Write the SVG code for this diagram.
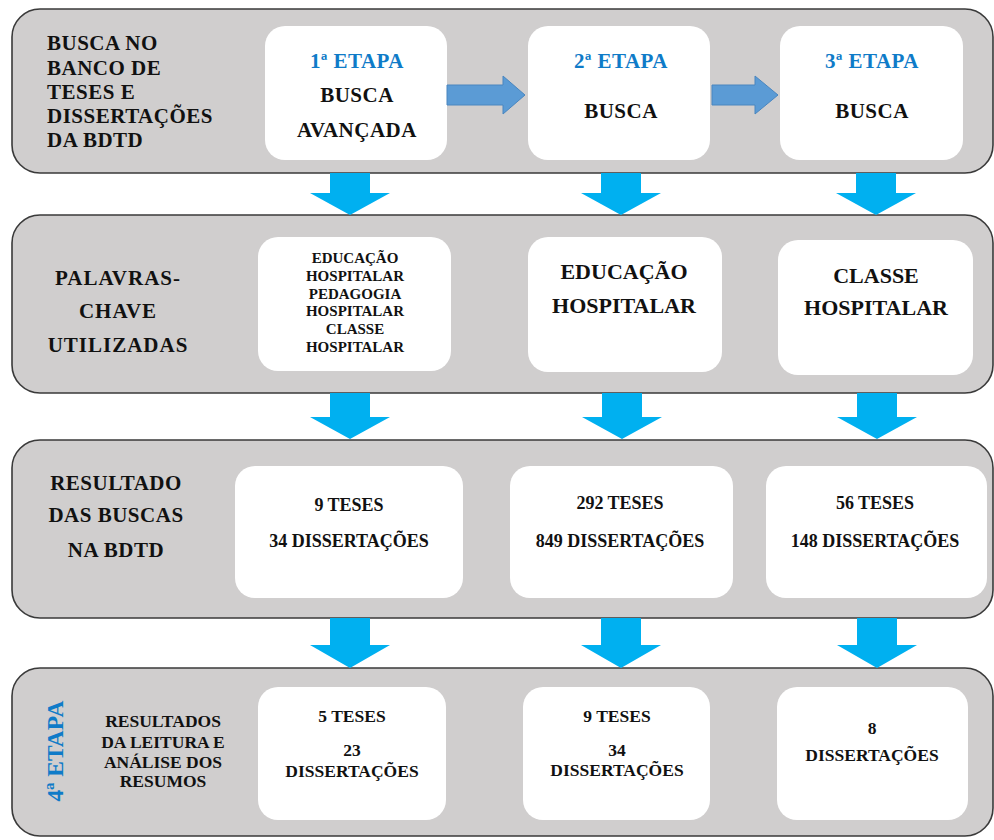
<svg xmlns="http://www.w3.org/2000/svg" width="994" height="840" viewBox="0 0 994 840">
<style>
.panel{fill:#d0cece;stroke:#3a3a3a;stroke-width:1.6}
.box{fill:#ffffff}
.t text{font-family:"Liberation Serif","Times New Roman",Times,"Nimbus Roman","Noto Serif","DejaVu Serif",serif;font-weight:700;fill:#111}
.t .c{text-anchor:middle}
.t .blue{fill:#0f7bc8}
.h21{font-size:21px;letter-spacing:0.5px}
.h22{font-size:22px}
.h23{font-size:23.5px}
.h18{font-size:18px}
.h175{font-size:17.5px}
.h15{font-size:15px}
.harrow{fill:#5b9bd5;stroke:#4a86bf;stroke-width:1}
.varrow{fill:#00b0f0}
</style>
<rect width="994" height="840" fill="#ffffff"/>
<g class="t">

<!-- Row 1 -->
<g id="panel1">
<rect class="panel" x="12" y="9" width="981" height="164" rx="28"/>
<text class="h21" x="47" y="50">BUSCA NO</text>
<text class="h21" x="47" y="75">BANCO DE</text>
<text class="h21" x="47" y="99">TESES E</text>
<text class="h21" x="47" y="123">DISSERTAÇÕES</text>
<text class="h21" x="47" y="147">DA BDTD</text>
</g>
<g id="etapa1">
<rect class="box" x="265" y="26" width="182" height="134" rx="20"/>
<text class="h21 c blue" x="357" y="68">1ª ETAPA</text>
<text class="h21 c" x="357" y="102">BUSCA</text>
<text class="h21 c" x="357" y="137">AVANÇADA</text>
</g>
<g id="etapa2">
<rect class="box" x="528" y="26" width="182" height="134" rx="20"/>
<text class="h21 c blue" x="621" y="68">2ª ETAPA</text>
<text class="h21 c" x="621" y="118">BUSCA</text>
</g>
<g id="etapa3">
<rect class="box" x="780" y="26" width="183" height="134" rx="20"/>
<text class="h21 c blue" x="872" y="68">3ª ETAPA</text>
<text class="h21 c" x="872" y="118">BUSCA</text>
</g>

<!-- Row 2 -->
<g id="panel2">
<rect class="panel" x="12" y="215" width="981" height="178" rx="28"/>
<text class="h21 c" x="118" y="285" style="letter-spacing:1px">PALAVRAS-</text>
<text class="h21 c" x="118" y="318" style="letter-spacing:1px">CHAVE</text>
<text class="h21 c" x="118" y="352" style="letter-spacing:1px">UTILIZADAS</text>
</g>
<g id="palavras1">
<rect class="box" x="258" y="237" width="193" height="134" rx="20"/>
<text class="h15 c" x="355" y="263">EDUCAÇÃO</text>
<text class="h15 c" x="355" y="281">HOSPITALAR</text>
<text class="h15 c" x="355" y="299">PEDAGOGIA</text>
<text class="h15 c" x="355" y="316">HOSPITALAR</text>
<text class="h15 c" x="355" y="334">CLASSE</text>
<text class="h15 c" x="355" y="352">HOSPITALAR</text>
</g>
<g id="palavras2">
<rect class="box" x="528" y="237" width="194" height="135" rx="20"/>
<text class="h22 c" x="624" y="279">EDUCAÇÃO</text>
<text class="h22 c" x="624" y="313">HOSPITALAR</text>
</g>
<g id="palavras3">
<rect class="box" x="778" y="240" width="195" height="135" rx="20"/>
<text class="h22 c" x="876" y="283">CLASSE</text>
<text class="h22 c" x="876" y="315">HOSPITALAR</text>
</g>

<!-- Row 3 -->
<g id="panel3">
<rect class="panel" x="12" y="440" width="981" height="178" rx="28"/>
<text class="h21 c" x="116" y="490">RESULTADO</text>
<text class="h21 c" x="116" y="522">DAS BUSCAS</text>
<text class="h21 c" x="116" y="557">NA BDTD</text>
</g>
<g id="resultado1">
<rect class="box" x="235" y="466" width="228" height="132" rx="20"/>
<text class="h18 c" x="349" y="511">9 TESES</text>
<text class="h18 c" x="349" y="547">34 DISSERTAÇÕES</text>
</g>
<g id="resultado2">
<rect class="box" x="510" y="466" width="223" height="132" rx="20"/>
<text class="h18 c" x="620" y="509">292 TESES</text>
<text class="h18 c" x="620" y="547">849 DISSERTAÇÕES</text>
</g>
<g id="resultado3">
<rect class="box" x="766" y="466" width="221" height="132" rx="20"/>
<text class="h18 c" x="875" y="509">56 TESES</text>
<text class="h18 c" x="875" y="547">148 DISSERTAÇÕES</text>
</g>

<!-- Row 4 -->
<g id="panel4">
<rect class="panel" x="12" y="668" width="981" height="168" rx="28"/>
<text class="h23 c blue" transform="translate(63,751) rotate(-90)">4ª ETAPA</text>
<text class="h175 c" x="163" y="727">RESULTADOS</text>
<text class="h175 c" x="163" y="748">DA LEITURA E</text>
<text class="h175 c" x="163" y="768">ANÁLISE DOS</text>
<text class="h175 c" x="163" y="787">RESUMOS</text>
</g>
<g id="leitura1">
<rect class="box" x="258" y="687" width="188" height="133" rx="20"/>
<text class="h175 c" x="352" y="722">5 TESES</text>
<text class="h175 c" x="352" y="756">23</text>
<text class="h175 c" x="352" y="777">DISSERTAÇÕES</text>
</g>
<g id="leitura2">
<rect class="box" x="523" y="687" width="187" height="133" rx="20"/>
<text class="h175 c" x="617" y="722">9 TESES</text>
<text class="h175 c" x="617" y="756">34</text>
<text class="h175 c" x="617" y="776">DISSERTAÇÕES</text>
</g>
<g id="leitura3">
<rect class="box" x="777" y="687" width="191" height="133" rx="20"/>
<text class="h175 c" x="872" y="734">8</text>
<text class="h175 c" x="872" y="761">DISSERTAÇÕES</text>
</g>
</g>

<!-- Connectors -->
<g id="connectors">
<polygon class="harrow" points="447,85 503,85 503,76 525,95 503,114 503,105 447,105"/>
<polygon class="harrow" points="712,85 755,85 755,76 778,95 755,114 755,105 712,105"/>

<polygon class="varrow" points="330,173 370,173 370,193 390,193 350,215 310,193 330,193"/>
<polygon class="varrow" points="601,173 641,173 641,193 661,193 621,215 581,193 601,193"/>
<polygon class="varrow" points="856,173 896,173 896,193 916,193 876,215 836,193 856,193"/>

<polygon class="varrow" points="330,393 370,393 370,417 390,417 350,439 310,417 330,417"/>
<polygon class="varrow" points="602,393 642,393 642,417 662,417 622,439 582,417 602,417"/>
<polygon class="varrow" points="857,393 897,393 897,417 917,417 877,439 837,417 857,417"/>

<polygon class="varrow" points="330,618 370,618 370,645 390,645 350,668 310,645 330,645"/>
<polygon class="varrow" points="601,618 641,618 641,645 661,645 621,668 581,645 601,645"/>
<polygon class="varrow" points="857,618 897,618 897,645 917,645 877,668 837,645 857,645"/>
</g>
</svg>
